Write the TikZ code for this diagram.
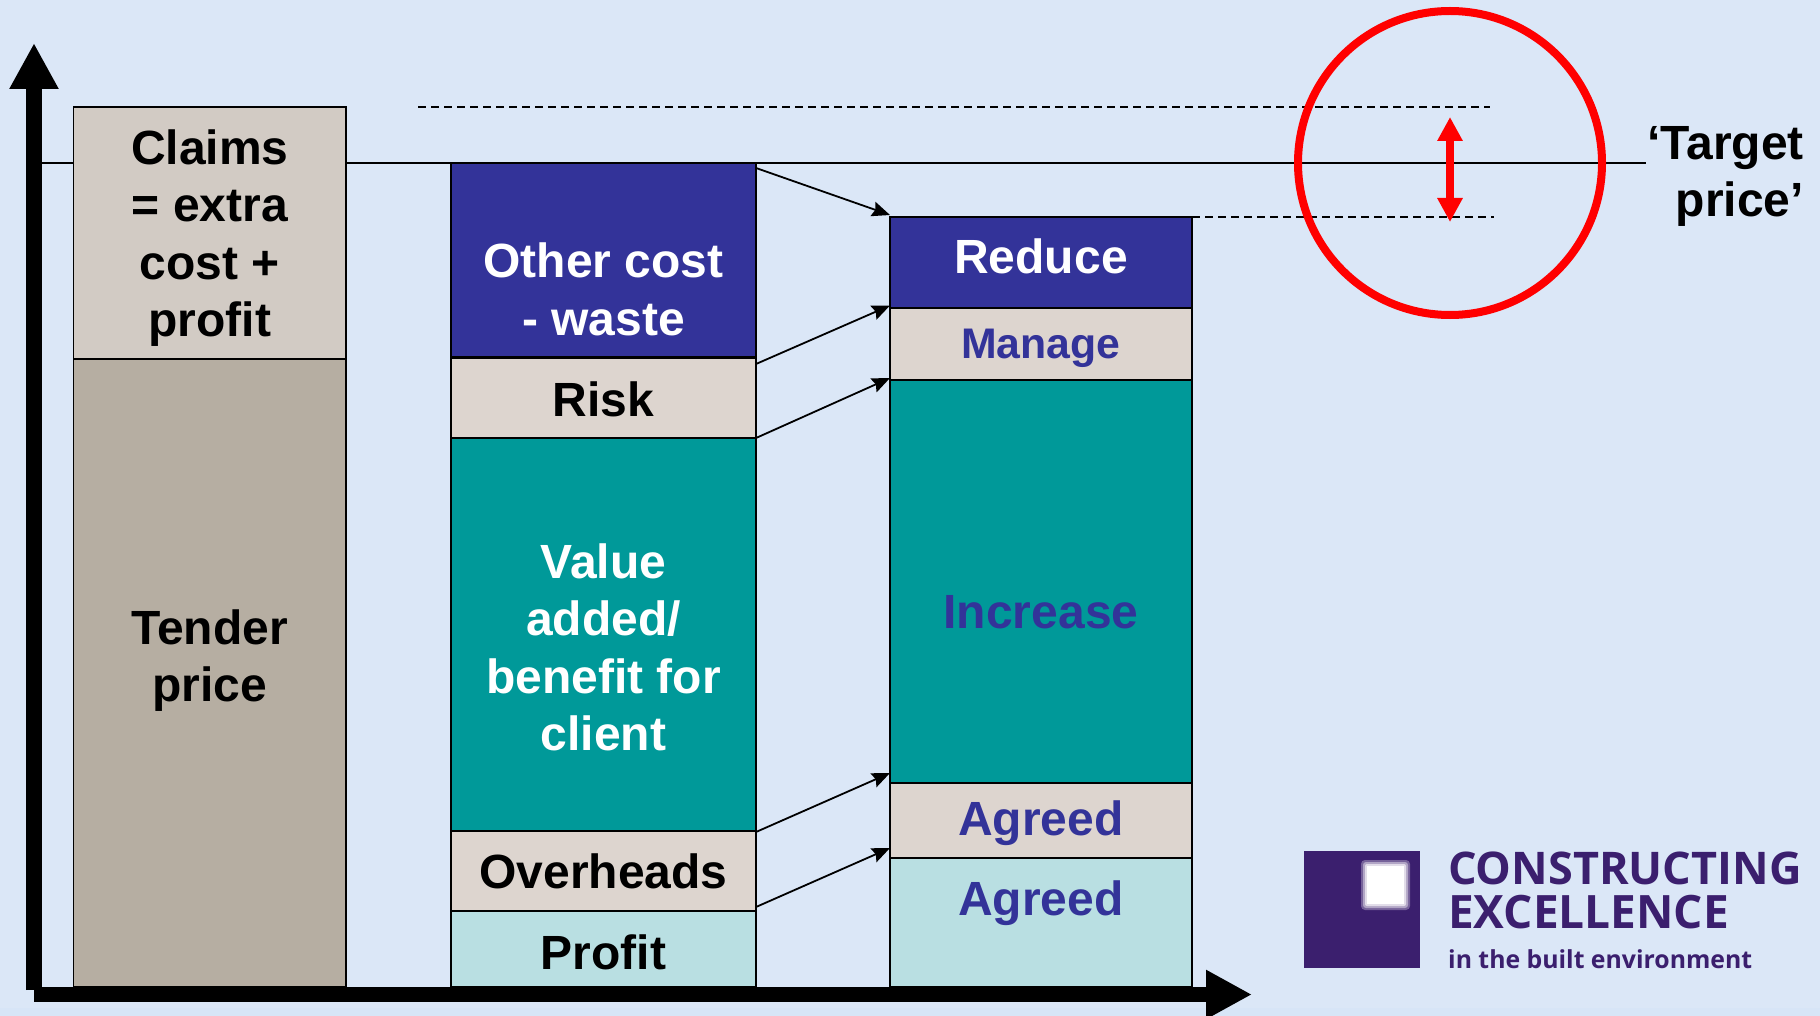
\documentclass[tikz,border=0pt]{standalone}
\usepackage{fontspec}
\setmainfont{Liberation Sans}
\newfontfamily\logofont{Open Sans}
\usetikzlibrary{arrows.meta,calc}
\definecolor{bgblue}{HTML}{DBE7F7}
\definecolor{stripblue}{HTML}{D7E5F7}
\definecolor{claimc}{HTML}{D2CBC4}
\definecolor{tenderc}{HTML}{B6AEA2}
\definecolor{navy}{HTML}{333399}
\definecolor{stonec}{HTML}{DDD5CF}
\definecolor{tealc}{HTML}{009999}
\definecolor{aquac}{HTML}{B9DFE2}
\definecolor{logoc}{HTML}{3B1F6E}
\newcommand{\lnT}[1]{\rule{0pt}{#1pt}}
\newcommand{\lnB}[1]{\rule[-#1pt]{0pt}{#1pt}}
\tikzset{
  barbox/.style={draw=black,line width=1.6pt,inner sep=0pt,outer sep=0pt,align=center,
    font=\fontsize{48}{57.5}\selectfont\bfseries},
  leftcol/.style={barbox,minimum width=272.5pt},
  midcol/.style={barbox,minimum width=305pt},
  rightcol/.style={barbox,minimum width=302pt},
  flow/.style={black,line width=1.8pt,-{Stealth[length=18pt,width=15pt,inset=2.5pt]}},
  axis/.style={black,line width=16pt,-{Triangle[length=46pt,width=46pt]}},
  guide/.style={black,line width=1.4pt,dash pattern=on 8pt off 5pt},
  logotext/.style={anchor=base west,inner sep=0pt,text=logoc,font=\logofont\bfseries}
}
\begin{document}
\begin{tikzpicture}[x=1pt,y=-1pt]
\useasboundingbox (0,0) rectangle (1820,1016);
\fill[bgblue] (0,0) rectangle (1820,1016);
\fill[stripblue] (0,1008) rectangle (1820,1016);

% target price line and guides
\coordinate (tl) at (42,163);
\coordinate (tr) at (1646,163);
\coordinate (gtl) at (418,107);
\coordinate (gtr) at (1490,107);
\coordinate (gbl) at (1192,217);
\coordinate (gbr) at (1494,217);
\draw[black,line width=1.6pt] (tl) -- (tr);
\draw[guide] (gtl) -- (gtr);
\draw[guide] (gbl) -- (gbr);

% left column
\node[leftcol,fill=claimc,minimum height=252pt] (claims) at (209.75,233)
  {\lnT{45}Claims\\= extra\\cost +\\\lnB{10}profit};
\node[leftcol,fill=tenderc,minimum height=628pt] (tender) at (209.75,673)
  {\lnT{40}Tender\\\lnB{40}price};

% middle column
\node[midcol,fill=navy,text=white,minimum height=194pt] (other) at (603.5,260)
  {\lnT{103}Other cost\\\lnB{10}- waste};
\node[midcol,fill=stonec,minimum height=80pt] (risk) at (603.5,398)
  {\lnT{46}\lnB{10}Risk};
\node[midcol,fill=tealc,text=white,minimum height=393pt] (value) at (603.5,634.5)
  {\lnT{70}Value\\added/\\benefit for\\\lnB{10}client};
\node[midcol,fill=stonec,minimum height=80pt] (ovh) at (603.5,871)
  {\lnT{44}\lnB{10}Overheads};
\node[midcol,fill=aquac,minimum height=76pt] (profit) at (603.5,949)
  {\lnT{50}\lnB{10}Profit};

% right column
\node[rightcol,fill=navy,text=white,minimum height=91pt] (reduce) at (1041,262.5)
  {\lnT{35}\lnB{12}Reduce};
\node[rightcol,fill=stonec,text=navy,minimum height=72pt,font=\fontsize{42.8}{50}\selectfont\bfseries] (manage) at (1041,344.5)
  {\lnT{38}\lnB{10}Manage};
\node[rightcol,fill=tealc,text=navy,minimum height=403pt,font=\fontsize{48}{57.5}\selectfont\bfseries] (increase) at (1041,581.5)
  {\lnT{103}\lnB{10}Increase};
\node[rightcol,fill=stonec,text=navy,minimum height=75pt] (agreeda) at (1041,820.5)
  {\lnT{41}\lnB{10}Agreed};
\node[rightcol,fill=aquac,text=navy,minimum height=129pt] (agreedb) at (1041,922.5)
  {\lnT{35}\lnB{50}Agreed};

% connectors
\draw[flow] ($(other.north east)+(0,5)$) -- ($(reduce.north west)+(0,-2)$);
\draw[flow] ($(risk.north east)+(0,6)$) -- ($(manage.north west)+(0,-3)$);
\draw[flow] (risk.south east) -- ($(increase.north west)+(0,-2)$);
\draw[flow] ($(ovh.north east)+(0,1)$) -- ($(agreeda.north west)+(0,-10)$);
\draw[flow] ($(ovh.south east)+(0,-4)$) -- ($(agreedb.north west)+(0,-10)$);

% axes
\coordinate (ybase) at (34,990);
\coordinate (ytip) at (34,43);
\coordinate (xbase) at (34,994.5);
\coordinate (xtip) at (1252,994.5);
\draw[axis] (ybase) -- (ytip);
\draw[axis,line width=15pt] (xbase) -- (xtip);

% target circle
\node[circle,draw=red,line width=8pt,minimum size=304pt,inner sep=0pt,outer sep=0pt] (ring) at (1450,163) {};
\coordinate (rtop) at (1450,117);
\coordinate (rbot) at (1450,222);
\draw[red,line width=8pt,{Triangle[length=24pt,width=24pt]}-{Triangle[length=24pt,width=24pt]}] (rtop) -- (rbot);

\node[anchor=east,inner sep=0pt,align=right,font=\fontsize{48}{57}\selectfont\bfseries] (target) at (1804,176)
  {\lnT{36}‘Target\\\lnB{12}price’};

% logo
\fill[logoc] (1303.5,851) rectangle (1420,968);
\fill[logoc!70!white,rounded corners=4pt] (1361,860) rectangle (1410,910);
\fill[logoc!40!white,rounded corners=3pt] (1363,862) rectangle (1408,908);
\fill[logoc!15!white,rounded corners=2pt] (1365,864) rectangle (1406,906);
\fill[white] (1367,866) rectangle (1404,904);
\node[logotext,font=\logofont\bfseries\fontsize{45}{50}\selectfont] (lga) at (1448,884) {CONSTRUCTING};
\node[logotext,font=\logofont\bfseries\fontsize{46}{50}\selectfont] (lgb) at (1448,928) {EXCELLENCE};
\node[logotext,font=\logofont\bfseries\fontsize{24.8}{30}\selectfont] (lgc) at (1448,968) {in the built environment};
\end{tikzpicture}
\end{document}
